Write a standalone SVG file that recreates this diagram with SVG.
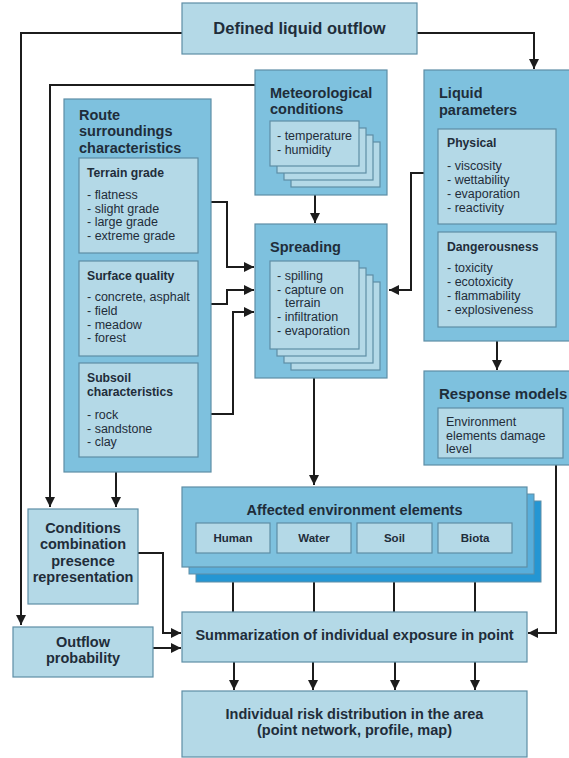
<svg xmlns="http://www.w3.org/2000/svg" width="569" height="758" viewBox="0 0 569 758">
<defs>
<style>
.ob{fill:#7ec1de;stroke:#5e8ea6;stroke-width:1.2}
.lb{fill:#b4d9e7;stroke:#5e8ea6;stroke-width:1.2}
.l2{fill:#58aedb;stroke:#5e8ea6;stroke-width:1}
.l3{fill:#2496d3;stroke:#5e8ea6;stroke-width:1}
text{font-family:"Liberation Sans",Arial,sans-serif;fill:#1f2d3a}
.t{font-weight:bold;font-size:14.5px}
.big{font-weight:bold;font-size:16.5px}
.st{font-weight:bold;font-size:12.2px}
.it{font-size:12.5px}
.sm{font-weight:bold;font-size:11.5px}
.c{text-anchor:middle}
.cn{fill:none;stroke:#1c1c1c;stroke-width:2}
</style>
<marker id="ah" viewBox="0 0 10 10" refX="10" refY="5" markerWidth="10" markerHeight="10" markerUnits="userSpaceOnUse" orient="auto"><path d="M0,0 L10,5 L0,10 z" fill="#1c1c1c"/></marker>
</defs>

<g id="connectors">
<path class="cn" d="M182,33 H21 V625" marker-end="url(#ah)"/>
<path class="cn" d="M417,33 H534 V69" marker-end="url(#ah)"/>
<path class="cn" d="M256,85 H50 V507" marker-end="url(#ah)"/>
<path class="cn" d="M116,472 V507" marker-end="url(#ah)"/>
<path class="cn" d="M198,202 H227 V267 H254" marker-end="url(#ah)"/>
<path class="cn" d="M198,304 H227 V290 H254" marker-end="url(#ah)"/>
<path class="cn" d="M198,414 H233 V312 H254" marker-end="url(#ah)"/>
<path class="cn" d="M315,195 V223" marker-end="url(#ah)"/>
<path class="cn" d="M438,173 H411 V290 H389" marker-end="url(#ah)"/>
<path class="cn" d="M497,327 V370" marker-end="url(#ah)"/>
<path class="cn" d="M314,378 V485" marker-end="url(#ah)"/>
<path class="cn" d="M556,465 V633 H528" marker-end="url(#ah)"/>
<path class="cn" d="M138,553 H163 V633 H181" marker-end="url(#ah)"/>
<path class="cn" d="M153,648 H181" marker-end="url(#ah)"/>
<path class="cn" d="M233,553 V612 M314,553 V612 M394,553 V612 M475,553 V612"/>
<path class="cn" d="M234,662 V690" marker-end="url(#ah)"/>
<path class="cn" d="M313,662 V690" marker-end="url(#ah)"/>
<path class="cn" d="M395,662 V690" marker-end="url(#ah)"/>
<path class="cn" d="M475,662 V690" marker-end="url(#ah)"/>
</g>

<g id="defined">
<rect class="lb" x="182" y="3" width="235" height="51"/>
<text class="big c" x="299.5" y="34">Defined liquid outflow</text>
</g>

<g id="route">
<rect class="ob" x="64" y="99" width="147" height="373"/>
<text class="t" x="79" y="120">Route</text>
<text class="t" x="79" y="136">surroundings</text>
<text class="t" x="79" y="153">characteristics</text>
<g id="terrain">
<rect class="lb" x="79" y="158" width="119" height="95"/>
<text class="st" x="87" y="177">Terrain grade</text>
<text class="it" x="87" y="199">- flatness</text>
<text class="it" x="87" y="213">- slight grade</text>
<text class="it" x="87" y="226">- large grade</text>
<text class="it" x="87" y="240">- extreme grade</text>
</g>
<g id="surface">
<rect class="lb" x="79" y="261" width="119" height="95"/>
<text class="st" x="87" y="280">Surface quality</text>
<text class="it" x="87" y="301">- concrete, asphalt</text>
<text class="it" x="87" y="315">- field</text>
<text class="it" x="87" y="329">- meadow</text>
<text class="it" x="87" y="342">- forest</text>
</g>
<g id="subsoil">
<rect class="lb" x="79" y="363" width="119" height="94"/>
<text class="st" x="87" y="382">Subsoil</text>
<text class="st" x="87" y="396">characteristics</text>
<text class="it" x="87" y="419">- rock</text>
<text class="it" x="87" y="433">- sandstone</text>
<text class="it" x="87" y="446">- clay</text>
</g>
</g>

<g id="meteo">
<rect class="ob" x="255" y="70" width="132" height="125"/>
<text class="t" x="270" y="98">Meteorological</text>
<text class="t" x="270" y="114">conditions</text>
<rect class="lb" x="291" y="142" width="89" height="45"/>
<rect class="lb" x="284" y="135" width="89" height="45"/>
<rect class="lb" x="277" y="128" width="89" height="45"/>
<rect class="lb" x="270" y="121" width="89" height="45"/>
<text class="it" x="277" y="140">- temperature</text>
<text class="it" x="277" y="154">- humidity</text>
</g>

<g id="spreading">
<rect class="ob" x="255" y="224" width="132" height="154"/>
<text class="t" x="270" y="252">Spreading</text>
<rect class="lb" x="291" y="282" width="89" height="88"/>
<rect class="lb" x="284" y="275" width="89" height="88"/>
<rect class="lb" x="277" y="268" width="89" height="88"/>
<rect class="lb" x="270" y="261" width="89" height="88"/>
<text class="it" x="277" y="280">- spilling</text>
<text class="it" x="277" y="294">- capture on</text>
<text class="it" x="285" y="307">terrain</text>
<text class="it" x="277" y="321">- infiltration</text>
<text class="it" x="277" y="335">- evaporation</text>
</g>

<g id="liquid">
<rect class="ob" x="424" y="70" width="150" height="271"/>
<text class="t" x="439" y="98">Liquid</text>
<text class="t" x="439" y="115">parameters</text>
<g id="physical">
<rect class="lb" x="438" y="129" width="118" height="95"/>
<text class="st" x="447" y="147">Physical</text>
<text class="it" x="447" y="170">- viscosity</text>
<text class="it" x="447" y="184">- wettability</text>
<text class="it" x="447" y="198">- evaporation</text>
<text class="it" x="447" y="212">- reactivity</text>
</g>
<g id="danger">
<rect class="lb" x="438" y="232" width="118" height="95"/>
<text class="st" x="447" y="251">Dangerousness</text>
<text class="it" x="447" y="272">- toxicity</text>
<text class="it" x="447" y="286">- ecotoxicity</text>
<text class="it" x="447" y="300">- flammability</text>
<text class="it" x="447" y="314">- explosiveness</text>
</g>
</g>

<g id="response">
<rect class="ob" x="424" y="371" width="150" height="94"/>
<text class="t" x="439" y="399" style="font-size:15px">Response models</text>
<rect class="lb" x="438" y="408" width="125" height="50"/>
<text class="it" x="446" y="426">Environment</text>
<text class="it" x="446" y="440">elements damage</text>
<text class="it" x="446" y="453">level</text>
</g>

<g id="affected">
<rect class="l3" x="196" y="501" width="345" height="81"/>
<rect class="l2" x="189" y="494" width="345" height="80"/>
<rect class="ob" x="182" y="487" width="345" height="80"/>
<text class="t c" x="354.5" y="515">Affected environment elements</text>
<g id="human"><rect class="lb" x="196" y="523" width="74" height="30"/><text class="sm c" x="233" y="542">Human</text></g>
<g id="water"><rect class="lb" x="277" y="523" width="74" height="30"/><text class="sm c" x="314" y="542">Water</text></g>
<g id="soil"><rect class="lb" x="357" y="523" width="75" height="30"/><text class="sm c" x="394.5" y="542">Soil</text></g>
<g id="biota"><rect class="lb" x="438" y="523" width="74" height="30"/><text class="sm c" x="475" y="542">Biota</text></g>
</g>

<g id="conditions">
<rect class="lb" x="28" y="509" width="110" height="95"/>
<text class="t c" x="83" y="533">Conditions</text>
<text class="t c" x="83" y="549">combination</text>
<text class="t c" x="83" y="566">presence</text>
<text class="t c" x="83" y="582">representation</text>
</g>

<g id="outflow">
<rect class="lb" x="13" y="627" width="140" height="50"/>
<text class="t c" x="83" y="647">Outflow</text>
<text class="t c" x="83" y="663">probability</text>
</g>

<g id="summarization">
<rect class="lb" x="182" y="612" width="345" height="50"/>
<text class="t c" x="354.5" y="640">Summarization of individual exposure in point</text>
</g>

<g id="risk">
<rect class="lb" x="182" y="691" width="345" height="66"/>
<text class="t c" x="354.5" y="719">Individual risk distribution in the area</text>
<text class="t c" x="354.5" y="735">(point network, profile, map)</text>
</g>
</svg>
